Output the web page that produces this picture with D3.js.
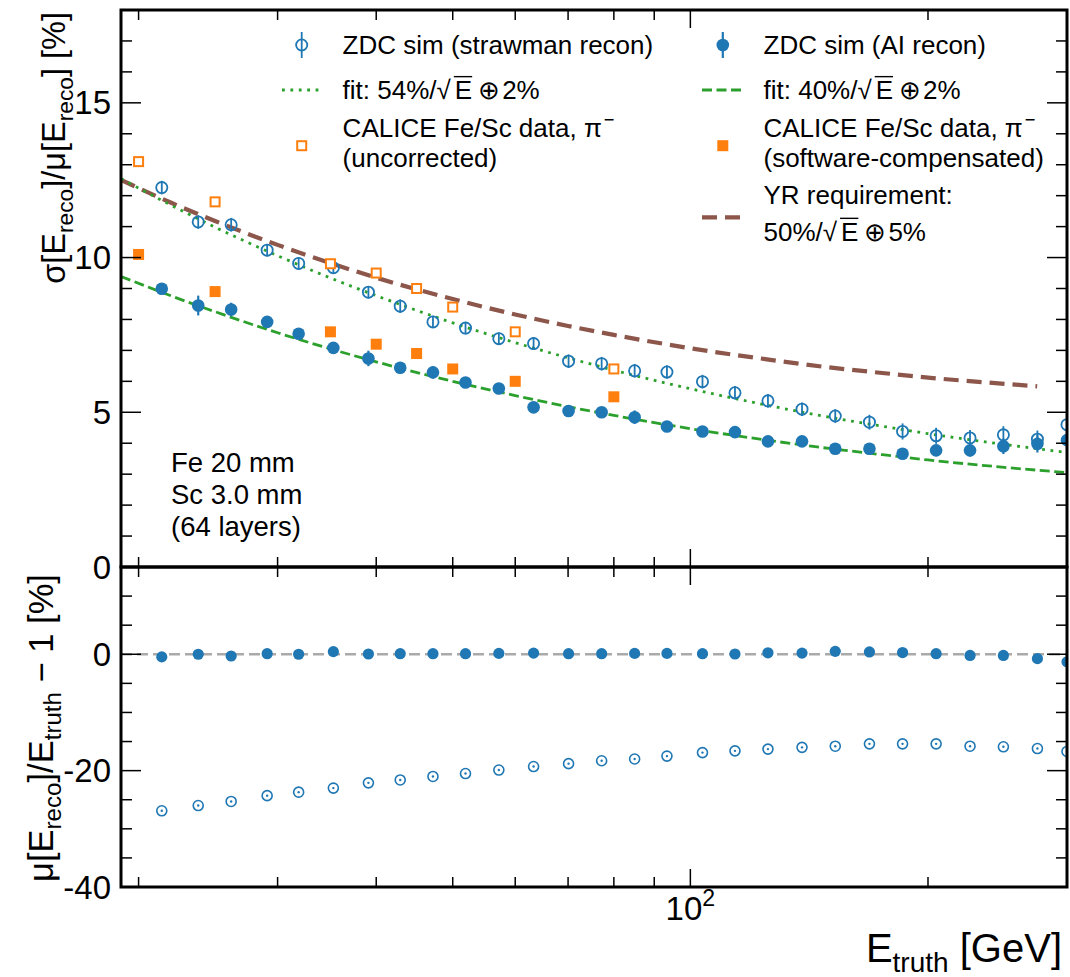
<!DOCTYPE html>
<html><head><meta charset="utf-8">
<script src="https://cdn.jsdelivr.net/npm/d3@7"></script>
<style>
body{margin:0;background:#fff}
text{font-family:"Liberation Sans",Arial,Helvetica,sans-serif;fill:#000;white-space:pre}
</style>
</head><body>
<svg id="c" width="1070" height="977"></svg>
<script>
// ---------------- data ----------------
const energies = [21.4, 23.8, 26.2, 29.1, 31.9, 35.3, 39.1, 42.9, 47.2, 51.9, 57.2, 63.3, 70.1, 77.2,
                  85.0, 93.4, 103.6, 113.9, 125.4, 138.5, 152.6, 168.6, 185.7, 204.8, 226.1, 249.2, 275.2, 300.0];
const resStraw = [12.26, 11.15, 11.06, 10.24, 9.81, 9.67, 8.88, 8.43, 7.92, 7.72, 7.38, 7.22, 6.65, 6.57,
                  6.34, 6.30, 5.99, 5.63, 5.37, 5.10, 4.88, 4.68, 4.38, 4.24, 4.17, 4.27, 4.13, 4.60];
const errStraw = [0.22, 0.22, 0.22, 0.2, 0.2, 0.2, 0.2, 0.22, 0.2, 0.2, 0.2, 0.2, 0.22, 0.22,
                  0.22, 0.22, 0.22, 0.22, 0.22, 0.22, 0.22, 0.24, 0.26, 0.26, 0.26, 0.28, 0.28, 0.3];
const resAI    = [8.99, 8.45, 8.32, 7.92, 7.54, 7.08, 6.74, 6.44, 6.29, 5.96, 5.77, 5.16, 5.04, 5.00,
                  4.84, 4.54, 4.38, 4.36, 4.06, 4.06, 3.82, 3.82, 3.66, 3.77, 3.77, 3.90, 3.98, 4.10];
const errAI    = [0.15, 0.32, 0.22, 0.12, 0.12, 0.12, 0.25, 0.12, 0.2, 0.12, 0.12, 0.12, 0.12, 0.12,
                  0.22, 0.12, 0.12, 0.12, 0.12, 0.12, 0.15, 0.15, 0.15, 0.18, 0.2, 0.25, 0.28, 0.3];
const biasAI   = [-0.45, 0.0, -0.3, 0.1, 0.0, 0.45, 0.05, 0.1, 0.1, 0.1, 0.15, 0.2, 0.1, 0.1,
                  0.15, 0.15, 0.1, 0.05, 0.25, 0.2, 0.5, 0.4, 0.3, 0.1, -0.2, -0.2, -0.75, -1.3];
const biasStraw= [-26.9, -26.0, -25.3, -24.3, -23.7, -23.0, -22.1, -21.6, -21.0, -20.5, -19.9, -19.3, -18.8, -18.3,
                  -18.0, -17.5, -16.9, -16.6, -16.3, -16.0, -15.8, -15.4, -15.4, -15.4, -15.8, -15.9, -16.2, -16.7];

const caliceE      = [20, 25, 35, 40, 45, 50, 60, 80];
const caliceUncorr = [13.1, 11.8, 9.8, 9.5, 9.0, 8.4, 7.6, 6.4];
const caliceComp   = [10.1, 8.9, 7.6, 7.2, 6.9, 6.4, 6.0, 5.5];

const curveE   = [19, 22, 25, 30, 35, 40, 50, 60, 70, 80, 100, 125, 150, 175, 200, 250, 300];
const fit54    = [12.55, 11.69, 10.98, 10.06, 9.34, 8.77, 7.89, 7.25, 6.76, 6.36, 5.76, 5.23, 4.84, 4.55, 4.31, 3.96, 3.70];
const fit40    = [9.39, 8.76, 8.25, 7.57, 7.05, 6.63, 6.00, 5.54, 5.18, 4.90, 4.47, 4.10, 3.83, 3.63, 3.46, 3.22, 3.05];
const yrE      = [19, 22, 25, 30, 35, 40, 50, 60, 70, 80, 100, 125, 150, 175, 200, 250, 275];
const yrReq    = [12.51, 11.77, 11.18, 10.41, 9.82, 9.35, 8.66, 8.16, 7.79, 7.50, 7.07, 6.71, 6.45, 6.27, 6.12, 5.92, 5.84];

const xTicks = [20, 30, 40, 50, 60, 70, 80, 90, 100, 200, 300];
const xMajor = [100];
const topMajor = [0, 5, 10, 15];
const topMinor = d3.range(0, 19, 1);
const botMajor = [-40, -20, 0];
const botMinor = d3.range(-40, 16, 5);

// ---------------- setup ----------------
const C_BLUE = "#1f77b4", C_ORANGE = "#ff7f0e", C_GREEN = "#2ca02c", C_BROWN = "#8c564b";
const svg = d3.select("#c");
svg.append("rect").attr("width", 1070).attr("height", 977).attr("fill", "#fff");

const L = 121, R = 1067;
const x = d3.scaleLog().domain([19, 300]).range([L, R]);
const yTop = d3.scaleLinear().domain([0, 18]).range([567, 10]);
const yBot = d3.scaleLinear().domain([-40, 15]).range([887, 567]);

const defs = svg.append("defs");
defs.append("clipPath").attr("id", "clipTop").append("rect").attr("x", L).attr("y", 10).attr("width", R - L).attr("height", 557);
defs.append("clipPath").attr("id", "clipBot").append("rect").attr("x", L).attr("y", 567).attr("width", R - L).attr("height", 320);

function rich(parent, px, py, segs, fs, anchor) {
  const g = parent.append("g");
  let cx = 0;
  for (const s of segs) {
    const f = s.s ? fs * 0.7 : fs;
    const dy = s.s === "sub" ? fs * 0.24 : s.s === "sup" ? -fs * 0.42 : 0;
    cx += (s.pre || 0);
    const t = g.append("text").attr("x", cx).attr("y", dy).attr("font-size", f)
      .attr("xml:space", "preserve").text(s.t);
    const w = t.node().getComputedTextLength();
    if (s.over) {
      g.append("line").attr("x1", cx - 1).attr("x2", cx + w).attr("y1", -fs * 0.86).attr("y2", -fs * 0.86)
        .attr("stroke", "#000").attr("stroke-width", 1.4);
    }
    cx += w;
  }
  const off = anchor === "end" ? -cx : anchor === "middle" ? -cx / 2 : 0;
  g.attr("transform", `translate(${px + off},${py})`);
  return g;
}

// ---------------- top panel ----------------
const gT = svg.append("g").attr("clip-path", "url(#clipTop)");
const line = (ys) => d3.line().x(d => x(d[0])).y(d => ys(d[1])).curve(d3.curveMonotoneX);

gT.append("path").datum(yrE.map((e, i) => [e, yrReq[i]])).attr("d", line(yTop))
  .attr("fill", "none").attr("stroke", C_BROWN).attr("stroke-width", 4.2).attr("stroke-dasharray", "15,8");
gT.append("path").datum(curveE.map((e, i) => [e, fit54[i]])).attr("d", line(yTop))
  .attr("fill", "none").attr("stroke", C_GREEN).attr("stroke-width", 2.8).attr("stroke-dasharray", "2.8,5.6");
gT.append("path").datum(curveE.map((e, i) => [e, fit40[i]])).attr("d", line(yTop))
  .attr("fill", "none").attr("stroke", C_GREEN).attr("stroke-width", 2.8).attr("stroke-dasharray", "10,4.5");

// strawman: open circles with error bars
const straw = energies.map((e, i) => ({e, v: resStraw[i], err: errStraw[i]}));
gT.selectAll(".sErr").data(straw).join("line")
  .attr("x1", d => x(d.e)).attr("x2", d => x(d.e))
  .attr("y1", d => yTop(d.v - d.err)).attr("y2", d => yTop(d.v + d.err))
  .attr("stroke", C_BLUE).attr("stroke-width", 1.8);
gT.selectAll(".sPt").data(straw).join("circle")
  .attr("cx", d => x(d.e)).attr("cy", d => yTop(d.v)).attr("r", 5.6)
  .attr("fill", "none").attr("stroke", C_BLUE).attr("stroke-width", 1.8);

// AI: filled circles with error bars
const ai = energies.map((e, i) => ({e, v: resAI[i], err: errAI[i]}));
gT.selectAll(".aErr").data(ai).join("line")
  .attr("x1", d => x(d.e)).attr("x2", d => x(d.e))
  .attr("y1", d => yTop(d.v - d.err)).attr("y2", d => yTop(d.v + d.err))
  .attr("stroke", C_BLUE).attr("stroke-width", 2.2);
gT.selectAll(".aPt").data(ai).join("circle")
  .attr("cx", d => x(d.e)).attr("cy", d => yTop(d.v)).attr("r", 6.3).attr("fill", C_BLUE);

// CALICE
const sq = 11;
gT.selectAll(".cu").data(caliceE.map((e, i) => [e, caliceUncorr[i]])).join("rect")
  .attr("x", d => x(d[0]) - sq / 2 + 1).attr("y", d => yTop(d[1]) - sq / 2 + 1).attr("width", sq - 2).attr("height", sq - 2)
  .attr("fill", "#fff").attr("stroke", C_ORANGE).attr("stroke-width", 2);
gT.selectAll(".cc").data(caliceE.map((e, i) => [e, caliceComp[i]])).join("rect")
  .attr("x", d => x(d[0]) - sq / 2).attr("y", d => yTop(d[1]) - sq / 2).attr("width", sq).attr("height", sq)
  .attr("fill", C_ORANGE);

// ---------------- bottom panel ----------------
const gB = svg.append("g").attr("clip-path", "url(#clipBot)");
gB.append("line").attr("x1", L).attr("x2", R).attr("y1", yBot(0)).attr("y2", yBot(0))
  .attr("stroke", "#aaaaaa").attr("stroke-width", 2.6).attr("stroke-dasharray", "11,5");
gB.selectAll(".bA").data(energies.map((e, i) => [e, biasAI[i]])).join("circle")
  .attr("cx", d => x(d[0])).attr("cy", d => yBot(d[1])).attr("r", 5.6).attr("fill", C_BLUE);
const bs = energies.map((e, i) => [e, biasStraw[i]]);
gB.selectAll(".bS").data(bs).join("circle")
  .attr("cx", d => x(d[0])).attr("cy", d => yBot(d[1])).attr("r", 5)
  .attr("fill", "none").attr("stroke", C_BLUE).attr("stroke-width", 1.6);
gB.selectAll(".bSd").data(bs).join("circle")
  .attr("cx", d => x(d[0])).attr("cy", d => yBot(d[1])).attr("r", 1.2).attr("fill", C_BLUE);

// ---------------- axes / ticks ----------------
const axG = svg.append("g").attr("stroke", "#000");
function xTicksAt(yEdge, dir) {
  xTicks.forEach(t => {
    const len = xMajor.includes(t) ? 18 : 10;
    axG.append("line").attr("x1", x(t)).attr("x2", x(t)).attr("y1", yEdge).attr("y2", yEdge + dir * len).attr("stroke-width", 1.5);
  });
}
xTicksAt(10, 1); xTicksAt(567, -1); xTicksAt(567, 1); xTicksAt(887, -1);
function yTicks(scale, major, minor) {
  minor.forEach(v => {
    const len = major.includes(v) ? 20 : 11;
    const yy = scale(v);
    axG.append("line").attr("x1", L).attr("x2", L + len).attr("y1", yy).attr("y2", yy).attr("stroke-width", 1.5);
    axG.append("line").attr("x1", R).attr("x2", R - len).attr("y1", yy).attr("y2", yy).attr("stroke-width", 1.5);
  });
}
yTicks(yTop, topMajor, topMinor);
yTicks(yBot, botMajor, botMinor);

// frames
svg.append("rect").attr("x", L).attr("y", 10).attr("width", R - L).attr("height", 557)
  .attr("fill", "none").attr("stroke", "#000").attr("stroke-width", 3);
svg.append("rect").attr("x", L).attr("y", 567).attr("width", R - L).attr("height", 320)
  .attr("fill", "none").attr("stroke", "#000").attr("stroke-width", 3);

// tick labels
topMajor.forEach(v => svg.append("text").attr("x", 111).attr("y", yTop(v) + 11.5).attr("text-anchor", "end")
  .attr("font-size", 33).text(String(v)));
botMajor.forEach(v => svg.append("text").attr("x", 111).attr("y", yBot(v) + 11.5).attr("text-anchor", "end")
  .attr("font-size", 33).text(String(v)));
rich(svg, x(100), 920, [{t: "10"}, {t: "2", s: "sup"}], 33, "middle");

// axis titles
rich(svg, 1062, 962, [{t: "E"}, {t: "truth", s: "sub"}, {t: " [GeV]"}], 40, "end");
const yl1 = svg.append("g").attr("transform", "translate(65,12) rotate(-90)");
rich(yl1, 0, 0, [{t: "σ[E"}, {t: "reco", s: "sub"}, {t: "]/μ[E"}, {t: "reco", s: "sub"}, {t: "] [%]"}], 32.5, "end");
const yl2 = svg.append("g").attr("transform", "translate(53,728) rotate(-90)");
rich(yl2, 0, 0, [{t: "μ[E"}, {t: "reco", s: "sub"}, {t: "]/E"}, {t: "truth", s: "sub"}, {t: " − 1 [%]"}], 34.5, "middle");

// annotation
[["Fe 20 mm", 471.7], ["Sc 3.0 mm", 504], ["(64 layers)", 536]].forEach(([s, yy]) =>
  svg.append("text").attr("x", 171).attr("y", yy).attr("font-size", 27.5).text(s));

// ---------------- legend ----------------
const lg = svg.append("g");
const c1m = 301.7, c2m = 722.8, c1t = 342.6, c2t = 763.5, FS = 26;
// col1 row1: strawman
lg.append("line").attr("x1", c1m).attr("x2", c1m).attr("y1", 32).attr("y2", 58).attr("stroke", C_BLUE).attr("stroke-width", 1.8);
lg.append("circle").attr("cx", c1m).attr("cy", 45).attr("r", 5.6).attr("fill", "none").attr("stroke", C_BLUE).attr("stroke-width", 1.8);
rich(lg, c1t, 54, [{t: "ZDC sim (strawman recon)"}], FS, "start");
// col1 row2: fit 54
lg.append("line").attr("x1", 282).attr("x2", 322).attr("y1", 90).attr("y2", 90).attr("stroke", C_GREEN).attr("stroke-width", 2.8).attr("stroke-dasharray", "2.8,5.6");
rich(lg, c1t, 99, [{t: "fit: 54%/"}, {t: "√"}, {t: "E", over: true, pre: 4}, {t: "⊕", pre: 6}, {t: "2%", pre: 2}], FS, "start");
// col1 row3: calice uncorrected
lg.append("rect").attr("x", c1m - 4.5).attr("y", 145.7 - 4.5).attr("width", 9).attr("height", 9).attr("fill", "#fff").attr("stroke", C_ORANGE).attr("stroke-width", 2);
rich(lg, c1t, 136.7, [{t: "CALICE Fe/Sc data, π"}, {t: "−", s: "sup", pre: 2}], FS, "start");
rich(lg, c1t, 166.5, [{t: "(uncorrected)"}], FS, "start");
// col2 row1: AI
lg.append("line").attr("x1", c2m).attr("x2", c2m).attr("y1", 32).attr("y2", 58).attr("stroke", C_BLUE).attr("stroke-width", 2.2);
lg.append("circle").attr("cx", c2m).attr("cy", 45).attr("r", 6.3).attr("fill", C_BLUE);
rich(lg, c2t, 54, [{t: "ZDC sim (AI recon)"}], FS, "start");
// col2 row2: fit 40
lg.append("line").attr("x1", 702).attr("x2", 742).attr("y1", 90).attr("y2", 90).attr("stroke", C_GREEN).attr("stroke-width", 2.8).attr("stroke-dasharray", "10,4.5");
rich(lg, c2t, 99, [{t: "fit: 40%/"}, {t: "√"}, {t: "E", over: true, pre: 4}, {t: "⊕", pre: 6}, {t: "2%", pre: 2}], FS, "start");
// col2 row3: calice compensated
lg.append("rect").attr("x", c2m - 5.5).attr("y", 145.7 - 5.5).attr("width", 11).attr("height", 11).attr("fill", C_ORANGE);
rich(lg, c2t, 136.7, [{t: "CALICE Fe/Sc data, π"}, {t: "−", s: "sup", pre: 2}], FS, "start");
rich(lg, c2t, 166.5, [{t: "(software-compensated)"}], FS, "start");
// col2 row4: YR
lg.append("line").attr("x1", 702).attr("x2", 742).attr("y1", 217.3).attr("y2", 217.3).attr("stroke", C_BROWN).attr("stroke-width", 4.2).attr("stroke-dasharray", "15,8");
rich(lg, c2t, 204, [{t: "YR requirement:"}], FS, "start");
rich(lg, c2t, 240.7, [{t: "50%/"}, {t: "√"}, {t: "E", over: true, pre: 4}, {t: "⊕", pre: 6}, {t: "5%", pre: 2}], FS, "start");
</script>
</body></html>
